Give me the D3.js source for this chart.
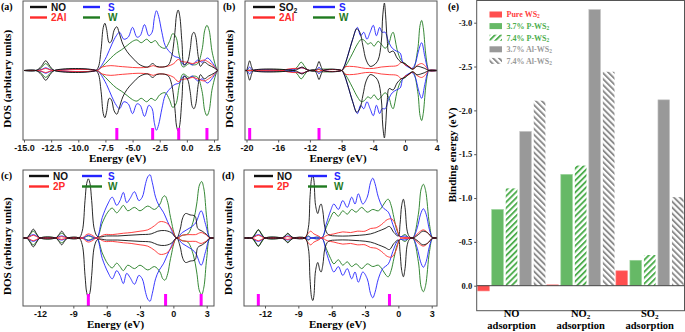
<!DOCTYPE html>
<html>
<head>
<meta charset="utf-8">
<script src="https://cdnjs.cloudflare.com/ajax/libs/d3/7.8.5/d3.min.js"></script>
<style>
body { margin: 0; background: #fff; }
svg { display: block; }
.serif { font-family: "Liberation Serif", "Times New Roman", serif; font-weight: bold; }
.sans { font-family: "Liberation Sans", Arial, sans-serif; font-weight: bold; }
</style>
</head>
<body>
<svg id="fig" width="685" height="332"></svg>
<script>
// ---- DOS data: [energy (eV), DOS (fraction of half panel height)]; spin-down is drawn mirrored ----

// (a) NO on 2Al-WS2
var aNO = [[-15,0],[-13.9,0],[-13.4,0.06],[-13.0,0.14],[-12.6,0.06],[-12.2,0],[-8.4,0],[-8.15,0.05],[-7.9,0.3],[-7.7,0.62],[-7.55,0.68],[-7.4,0.6],[-7.15,0.4],[-6.95,0.42],[-6.7,0.58],[-6.45,0.63],[-6.25,0.55],[-5.9,0.38],[-5.5,0.27],[-5.0,0.18],[-4.3,0.08],[-3.6,0.05],[-3.15,0.1],[-2.8,0.06],[-2.2,0.05],[-1.7,0.08],[-1.4,0.2],[-1.1,0.55],[-0.95,0.8],[-0.8,0.87],[-0.65,0.78],[-0.45,0.4],[-0.25,0.08],[0.05,0.12],[0.3,0.3],[0.5,0.52],[0.65,0.55],[0.8,0.5],[1.05,0.2],[1.25,0.06],[1.6,0.12],[2.0,0.08],[2.5,0.04],[2.85,0],[3,0]];
var aAl = [[-15,0],[-13.9,0],[-13.4,0.01],[-13.0,0.03],[-12.6,0.01],[-12.2,0],[-8.3,0],[-7.8,0.05],[-7.0,0.07],[-6.3,0.06],[-5.5,0.05],[-4.5,0.04],[-3.5,0.05],[-3.1,0.07],[-2.7,0.05],[-1.8,0.06],[-1.2,0.1],[-0.8,0.16],[-0.5,0.13],[0,0.12],[0.5,0.1],[1.0,0.12],[1.6,0.15],[2.0,0.12],[2.5,0.06],[2.85,0],[3,0]];
var aS = [[-15,0],[-13.9,0],[-13.3,0.02],[-13.0,0.04],[-12.7,0.02],[-12.2,0],[-8.3,0],[-8.0,0.04],[-7.4,0.2],[-6.9,0.38],[-6.5,0.5],[-6.2,0.55],[-5.8,0.45],[-5.4,0.48],[-5.0,0.62],[-4.6,0.48],[-4.3,0.5],[-3.9,0.66],[-3.5,0.5],[-3.2,0.55],[-3.0,0.75],[-2.8,0.86],[-2.6,0.78],[-2.3,0.55],[-2.0,0.36],[-1.6,0.27],[-1.1,0.2],[-0.7,0.18],[-0.3,0.08],[0.1,0.12],[0.5,0.08],[1.0,0.15],[1.4,0.12],[1.9,0.18],[2.4,0.1],[2.85,0],[3,0]];
var aW = [[-15,0],[-13.9,0],[-13.4,0.04],[-13.0,0.1],[-12.6,0.04],[-12.2,0],[-8.3,0],[-8.0,0.03],[-7.5,0.1],[-7.0,0.18],[-6.5,0.25],[-6.0,0.3],[-5.5,0.36],[-5.0,0.42],[-4.6,0.44],[-4.2,0.4],[-3.7,0.45],[-3.3,0.4],[-2.9,0.43],[-2.5,0.35],[-2.0,0.32],[-1.6,0.42],[-1.3,0.53],[-1.0,0.48],[-0.7,0.22],[-0.35,0.05],[0.2,0.1],[0.6,0.08],[1.0,0.1],[1.4,0.3],[1.65,0.58],[1.85,0.65],[2.05,0.58],[2.35,0.25],[2.85,0],[3,0]];

// (b) SO2 on 2Al-WS2
var bSO2 = [[-20.3,0],[-20.0,0],[-19.85,0.05],[-19.6,0.14],[-19.35,0.05],[-19.1,0],[-14,0],[-13.5,0.02],[-13,0.05],[-12.5,0.02],[-12,0],[-11.4,0],[-11.1,0.06],[-10.85,0.13],[-10.6,0.06],[-10.3,0],[-8.0,0],[-7.7,0.05],[-7.2,0.22],[-6.6,0.45],[-6.1,0.6],[-5.7,0.55],[-5.3,0.35],[-4.9,0.15],[-4.4,0.06],[-3.9,0.08],[-3.4,0.15],[-3.0,0.4],[-2.8,0.8],[-2.6,0.97],[-2.45,0.8],[-2.25,0.45],[-2.0,0.26],[-1.5,0.28],[-1.0,0.18],[-0.5,0.12],[0,0.1],[0.5,0.05],[1.0,0.02],[1.5,0.06],[2.0,0.05],[2.5,0.03],[3.0,0],[4.1,0]];
var bAl = [[-20.3,0],[-15.5,0],[-14.8,0.02],[-14,0.03],[-13.5,0.03],[-13,0.04],[-12.5,0.02],[-12,0],[-11.2,0],[-10.9,0.02],[-10.6,0],[-8.0,0],[-7.6,0.05],[-7,0.06],[-6,0.05],[-5,0.03],[-4,0.03],[-3,0.05],[-2,0.06],[-1,0.07],[-0.4,0.12],[0,0.08],[0.5,0.06],[1.0,0.02],[1.5,0.07],[2.1,0.1],[2.6,0.06],[3.0,0],[4.1,0]];
var bS = [[-20.3,0],[-20.0,0],[-19.8,0.02],[-19.6,0.05],[-19.4,0.02],[-19.2,0],[-15.5,0],[-14.8,0.01],[-14,0.02],[-13.5,0.03],[-13,0.04],[-12.5,0.02],[-12,0],[-11.3,0],[-11.0,0.03],[-10.85,0.05],[-10.7,0.03],[-10.4,0],[-8.0,0],[-7.7,0.05],[-7.2,0.22],[-6.6,0.45],[-6.0,0.62],[-5.6,0.5],[-5.2,0.55],[-4.8,0.45],[-4.4,0.55],[-4.0,0.65],[-3.6,0.5],[-3.2,0.62],[-2.9,0.55],[-2.5,0.55],[-2.1,0.42],[-1.6,0.32],[-1.1,0.28],[-0.6,0.25],[-0.3,0.12],[0,0.08],[0.4,0.05],[0.9,0.03],[1.3,0.1],[1.7,0.28],[2.1,0.4],[2.5,0.2],[2.8,0.05],[3.0,0],[4.1,0]];
var bW = [[-20.3,0],[-14.2,0],[-13.6,0.05],[-13.1,0.12],[-12.6,0.05],[-12.1,0],[-8.0,0],[-7.7,0.03],[-7.2,0.12],[-6.6,0.25],[-6.0,0.38],[-5.5,0.45],[-5.1,0.43],[-4.7,0.38],[-4.3,0.4],[-3.9,0.35],[-3.4,0.42],[-3.0,0.38],[-2.5,0.32],[-2.0,0.4],[-1.7,0.52],[-1.5,0.55],[-1.25,0.45],[-1.0,0.3],[-0.5,0.15],[0,0.1],[0.5,0.05],[1.0,0.02],[1.6,0.3],[1.9,0.65],[2.1,0.72],[2.3,0.62],[2.6,0.25],[2.85,0.05],[3.0,0],[4.1,0]];

// (c) NO on 2P-WS2
var cNO = [[-13.6,0],[-13.2,0],[-12.9,0.06],[-12.6,0.13],[-12.3,0.06],[-12.0,0],[-10.6,0],[-10.3,0.05],[-10.05,0.1],[-9.8,0.05],[-9.5,0],[-8.5,0],[-8.2,0.1],[-7.95,0.55],[-7.8,0.8],[-7.65,0.87],[-7.5,0.8],[-7.35,0.55],[-7.1,0.12],[-6.8,0.02],[-6,0.03],[-5,0.03],[-4,0.04],[-3,0.05],[-2,0.06],[-1.4,0.1],[-0.8,0.11],[-0.2,0.08],[0.3,0],[0.6,0.12],[0.85,0.3],[1.1,0.36],[1.5,0.34],[1.95,0.32],[2.2,0.14],[2.6,0.1],[3.0,0.05],[3.3,0],[3.7,0]];
var cP = [[-13.6,0],[-13.2,0],[-12.9,0.02],[-12.6,0.04],[-12.3,0.02],[-12.0,0],[-10.6,0],[-10.05,0.02],[-9.5,0],[-8.2,0],[-7.9,0.04],[-7.65,0.06],[-7.3,0.04],[-6.9,0],[-6.2,0.05],[-5.5,0.05],[-4.5,0.07],[-3.8,0.08],[-3.0,0.1],[-2.3,0.12],[-1.7,0.18],[-1.2,0.24],[-0.6,0.22],[-0.1,0.12],[0.3,0],[0.8,0.04],[1.5,0.05],[2.0,0.05],[2.5,0.08],[3.0,0.04],[3.3,0],[3.7,0]];
var cS = [[-13.6,0],[-13.2,0],[-12.9,0.03],[-12.6,0.05],[-12.3,0.03],[-12.0,0],[-10.6,0],[-10.3,0.02],[-10.05,0.03],[-9.8,0.02],[-9.5,0],[-8.2,0],[-7.9,0.02],[-7.65,0.04],[-7.3,0.02],[-6.9,0],[-6.4,0.3],[-5.9,0.5],[-5.5,0.6],[-5.1,0.48],[-4.8,0.55],[-4.5,0.67],[-4.2,0.52],[-3.9,0.58],[-3.5,0.68],[-3.1,0.55],[-2.8,0.6],[-2.5,0.8],[-2.3,0.9],[-2.1,0.93],[-1.9,0.82],[-1.6,0.6],[-1.3,0.48],[-0.9,0.38],[-0.4,0.2],[0.3,0],[0.8,0.08],[1.5,0.15],[2.0,0.22],[2.5,0.4],[2.9,0.2],[3.3,0],[3.7,0]];
var cW = [[-13.6,0],[-13.2,0],[-12.9,0.05],[-12.6,0.1],[-12.3,0.05],[-12.0,0],[-10.6,0],[-10.3,0.04],[-10.05,0.07],[-9.8,0.04],[-9.5,0],[-8.2,0],[-7.65,0.03],[-6.9,0],[-6.4,0.22],[-5.9,0.38],[-5.5,0.44],[-5.1,0.37],[-4.8,0.42],[-4.5,0.48],[-4.1,0.4],[-3.5,0.45],[-3.0,0.4],[-2.3,0.47],[-1.7,0.42],[-1.2,0.5],[-0.95,0.6],[-0.75,0.62],[-0.5,0.52],[-0.25,0.3],[0.3,0],[0.8,0.04],[1.3,0.06],[1.8,0.25],[2.1,0.5],[2.35,0.78],[2.55,0.83],[2.75,0.72],[3.0,0.3],[3.3,0],[3.7,0]];

// (d) NO on 2P-WS2, second site
var dNO = [[-14,0],[-13.2,0],[-12.9,0.05],[-12.6,0.12],[-12.3,0.05],[-12.0,0],[-10.5,0],[-10.2,0.03],[-9.95,0.07],[-9.7,0.03],[-9.4,0],[-8.4,0],[-8.1,0.15],[-7.95,0.6],[-7.8,0.88],[-7.7,0.92],[-7.6,0.85],[-7.45,0.48],[-7.25,0.36],[-7.05,0.48],[-6.95,0.5],[-6.8,0.4],[-6.6,0.15],[-6.3,0.05],[-5.5,0.03],[-4.5,0.03],[-3.5,0.04],[-2.5,0.06],[-1.8,0.1],[-1.2,0.14],[-0.8,0.17],[-0.4,0.08],[0.0,0.03],[0.15,0.2],[0.3,0.48],[0.45,0.57],[0.6,0.45],[0.8,0.1],[1.0,0.02],[1.3,0],[1.8,0.05],[2.2,0.1],[2.6,0.08],[3.1,0],[3.5,0]];
var dP = [[-14,0],[-13.2,0],[-12.9,0.02],[-12.6,0.04],[-12.3,0.02],[-12,0],[-10.5,0],[-9.95,0.02],[-9.4,0],[-8.5,0],[-8.2,0.05],[-7.9,0.1],[-7.6,0.06],[-7.2,0.03],[-6.9,0],[-6.4,0.04],[-5.8,0.06],[-5.0,0.09],[-4.3,0.08],[-3.7,0.1],[-3.0,0.1],[-2.5,0.14],[-2.0,0.15],[-1.5,0.2],[-1.0,0.27],[-0.6,0.28],[-0.2,0.18],[0.1,0.02],[0.3,0],[1.3,0],[1.7,0.06],[2.25,0.12],[2.8,0.05],[3.1,0],[3.5,0]];
var dS = [[-14,0],[-13.2,0],[-12.9,0.03],[-12.6,0.05],[-12.3,0.03],[-12,0],[-10.5,0],[-9.95,0.03],[-9.4,0],[-8.4,0],[-8.1,0.02],[-7.8,0],[-6.9,0],[-6.5,0.2],[-6.1,0.4],[-5.8,0.5],[-5.4,0.42],[-5.0,0.55],[-4.6,0.45],[-4.2,0.6],[-3.9,0.5],[-3.6,0.65],[-3.2,0.5],[-2.8,0.6],[-2.5,0.82],[-2.3,0.88],[-2.1,0.8],[-1.8,0.6],[-1.4,0.45],[-0.9,0.38],[-0.5,0.2],[-0.1,0.05],[0.2,0.02],[0.6,0.03],[1.0,0],[1.3,0],[1.7,0.15],[2.0,0.35],[2.25,0.43],[2.5,0.35],[2.8,0.12],[3.1,0],[3.5,0]];
var dW = [[-14,0],[-13.2,0],[-12.9,0.06],[-12.6,0.12],[-12.3,0.06],[-12,0],[-10.5,0],[-10.2,0.03],[-9.95,0.06],[-9.7,0.03],[-9.4,0],[-8.4,0],[-8.1,0.03],[-7.8,0],[-6.9,0],[-6.5,0.15],[-6.1,0.3],[-5.8,0.38],[-5.4,0.32],[-5.0,0.4],[-4.6,0.35],[-4.2,0.42],[-3.8,0.38],[-3.3,0.45],[-2.8,0.38],[-2.3,0.42],[-1.8,0.4],[-1.3,0.5],[-1.1,0.55],[-0.9,0.57],[-0.65,0.48],[-0.4,0.3],[-0.1,0.1],[0.2,0.02],[0.6,0.05],[1.0,0],[1.3,0],[1.8,0.35],[2.05,0.72],[2.25,0.79],[2.45,0.7],[2.8,0.2],[3.1,0],[3.5,0]];

// molecular level markers (eV)
var aLevels = [-6.45, -3.15, -0.75, 1.85];
var bLevels = [-19.6, -10.85];
var cLevels = [-7.65, -0.7, 2.5];
var dLevels = [-12.6, -0.8];

// energy tick labels
var aTicks = [-15, -12.5, -10, -7.5, -5, -2.5, 0, 2.5];
var bTicks = [-20, -16, -12, -8, -4, 0, 4];
var cTicks = [-12, -9, -6, -3, 0, 3];

// ---- (e) binding energies (eV) ----
var gases = ["NO", "NO2", "SO2"];
var seriesNames = ["Pure WS2", "3.7% P-WS2", "7.4% P-WS2", "3.7% Al-WS2", "7.4% Al-WS2"];
var pureWS2 = [0.06, -0.01, -0.17];
var p37WS2 = [-0.87, -1.27, -0.29];
var p74WS2 = [-1.11, -1.37, -0.35];
var al37WS2 = [-1.76, -3.15, -2.12];
var al74WS2 = [-2.11, -2.44, -1.01];
var bindTicks = [0, -0.5, -1.0, -1.5, -2.0, -2.5, -3.0];

var COL = { mol: "#111", dop: "#ff2b2b", S: "#2424ff", W: "#1f7a1f" };

var svg = d3.select("#fig");
svg.append("rect").attr("width", 685).attr("height", 332).attr("fill", "#fff");

// write "NO2"-like strings with a lowered, smaller trailing 2
function subText(sel, str, size) {
    var m = str.match(/^(.*?)(2)$/);
    if (!m) { sel.text(str); return sel; }
    sel.append("tspan").text(m[1]);
    sel.append("tspan").attr("font-size", size * 0.68).attr("baseline-shift", -size * 0.15).text("2");
    return sel;
}

function dosPanel(p) {
    var g = svg.append("g");
    var x = d3.scaleLinear().domain(p.anchorE).range(p.anchorX);
    var y = d3.scaleLinear().domain([-1, 1]).range([p.box.b, p.box.t]);

    var clipId = "clip-" + p.id;
    svg.append("clipPath").attr("id", clipId)
        .append("rect")
        .attr("x", p.box.l).attr("y", p.box.t)
        .attr("width", p.box.r - p.box.l).attr("height", p.box.b - p.box.t);

    var curve = d3.curveCatmullRom.alpha(0.5);
    var up = d3.line().x(function (d) { return x(d[0]); }).y(function (d) { return y(d[1]); }).curve(curve);
    var dn = d3.line().x(function (d) { return x(d[0]); }).y(function (d) { return y(-d[1]); }).curve(curve);

    var plot = g.append("g").attr("clip-path", "url(#" + clipId + ")");
    p.curves.forEach(function (c) {
        plot.append("path").attr("d", up(c.data)).attr("fill", "none").attr("stroke", c.color).attr("stroke-width", 0.9);
        plot.append("path").attr("d", dn(c.data)).attr("fill", "none").attr("stroke", c.color).attr("stroke-width", 0.9);
    });

    // level markers
    g.selectAll("rect.level").data(p.levels).enter().append("rect")
        .attr("class", "level")
        .attr("x", function (d) { return x(d) - 1.5; })
        .attr("y", p.box.b - 12)
        .attr("width", 3).attr("height", 12)
        .attr("fill", "#ff00ff");

    // frame
    g.append("rect")
        .attr("x", p.box.l).attr("y", p.box.t)
        .attr("width", p.box.r - p.box.l).attr("height", p.box.b - p.box.t)
        .attr("fill", "none").attr("stroke", "#555").attr("stroke-width", 1);

    var ax = g.append("g").attr("transform", "translate(0," + p.box.b + ")")
        .call(d3.axisBottom(x).tickValues(p.ticks).tickSize(2.5).tickPadding(2).tickFormat(p.fmt));
    ax.select(".domain").remove();
    ax.selectAll("line").attr("stroke", "#555");
    ax.selectAll("text").attr("class", "sans").attr("font-size", 9).attr("fill", "#111");

    g.append("text").attr("class", "serif").attr("font-size", 11)
        .attr("x", (p.box.l + p.box.r) / 2 - 3).attr("y", p.box.b + 21.5)
        .attr("text-anchor", "middle").text("Energy (eV)");

    g.append("text").attr("class", "serif").attr("font-size", 11)
        .attr("transform", "translate(" + (p.box.l - 12) + "," + (p.box.t + (p.box.b - p.box.t) * 0.56) + ") rotate(-90)")
        .attr("text-anchor", "middle").text("DOS (arbitary units)");

    g.append("text").attr("class", "serif").attr("font-size", 10)
        .attr("x", p.box.l - 22).attr("y", p.box.t + 9).text(p.label);

    // legend: two rows, two columns
    p.legend.forEach(function (it, i) {
        var col = Math.floor(i / 2), row = i % 2;
        var lx = p.box.l + p.legX[col], ly = p.box.t + 6 + row * 10.5;
        g.append("line").attr("x1", lx).attr("x2", lx + p.swatch)
            .attr("y1", ly).attr("y2", ly)
            .attr("stroke", it.color).attr("stroke-width", 2.4);
        var t = g.append("text").attr("class", "sans").attr("font-size", 10)
            .attr("x", lx + p.swatch + 4 + (it.pad || 0)).attr("y", ly + 3.6).attr("fill", it.color);
        if (it.name === "SO2") subText(t, it.name, 10); else t.text(it.name);
    });
}

var fmtA = function (d) { return d.toFixed(1); };
var fmtI = function (d) { return d3.format("d")(d).replace("\u2212", "-"); };

dosPanel({
    id: "a", label: "(a)", box: { l: 23, r: 218, t: 1, b: 140 },
    anchorE: [-15, 2.5], anchorX: [24, 214], ticks: aTicks, fmt: fmtA, levels: aLevels,
    curves: [{ data: aW, color: COL.W }, { data: aS, color: COL.S }, { data: aAl, color: COL.dop }, { data: aNO, color: COL.mol }],
    legend: [{ name: "NO", color: COL.mol }, { name: "2Al", color: COL.dop }, { name: "S", color: COL.S, pad: 4 }, { name: "W", color: COL.W, pad: 4 }],
    legX: [7, 60], swatch: 17
});
dosPanel({
    id: "b", label: "(b)", box: { l: 245, r: 437, t: 1, b: 140 },
    anchorE: [-20, 4], anchorX: [246.5, 436.7], ticks: bTicks, fmt: fmtI, levels: bLevels,
    curves: [{ data: bW, color: COL.W }, { data: bS, color: COL.S }, { data: bAl, color: COL.dop }, { data: bSO2, color: COL.mol }],
    legend: [{ name: "SO2", color: COL.mol }, { name: "2Al", color: COL.dop }, { name: "S", color: COL.S }, { name: "W", color: COL.W }],
    legX: [8, 68], swatch: 22
});
dosPanel({
    id: "c", label: "(c)", box: { l: 23, r: 214, t: 170, b: 306 },
    anchorE: [-12, 3], anchorX: [40, 206.7], ticks: cTicks, fmt: fmtI, levels: cLevels,
    curves: [{ data: cW, color: COL.W }, { data: cS, color: COL.S }, { data: cP, color: COL.dop }, { data: cNO, color: COL.mol }],
    legend: [{ name: "NO", color: COL.mol }, { name: "2P", color: COL.dop }, { name: "S", color: COL.S, pad: 2 }, { name: "W", color: COL.W, pad: 2 }],
    legX: [6, 59], swatch: 20
});
dosPanel({
    id: "d", label: "(d)", box: { l: 244, r: 437, t: 170, b: 306 },
    anchorE: [-12, 3], anchorX: [265, 431.7], ticks: cTicks, fmt: fmtI, levels: dLevels,
    curves: [{ data: dW, color: COL.W }, { data: dS, color: COL.S }, { data: dP, color: COL.dop }, { data: dNO, color: COL.mol }],
    legend: [{ name: "NO", color: COL.mol }, { name: "2P", color: COL.dop }, { name: "S", color: COL.S, pad: 3 }, { name: "W", color: COL.W, pad: 3 }],
    legX: [10, 64], swatch: 19
});

// ---- panel (e): grouped bars ----
(function () {
    var box = { l: 476.7, r: 684.5, t: 0.5, b: 310.7 };
    var defs = svg.append("defs");
    function hatch(id, color, angle) {
        var pat = defs.append("pattern").attr("id", id)
            .attr("patternUnits", "userSpaceOnUse").attr("width", 4.2).attr("height", 4.2)
            .attr("patternTransform", "rotate(" + angle + ")");
        pat.append("rect").attr("width", 4.2).attr("height", 4.2).attr("fill", "#fff");
        pat.append("rect").attr("width", 1.9).attr("height", 4.2).attr("fill", color);
    }
    hatch("hatchP", "#4fae4f", 45);
    hatch("hatchAl", "#8c8c8c", -45);

    var fills = ["#ff4f4f", "#66b966", "url(#hatchP)", "#999999", "url(#hatchAl)"];
    var textCol = ["#ff4040", "#4cae4c", "#4cae4c", "#9a9a9a", "#9a9a9a"];
    var seriesVals = [pureWS2, p37WS2, p74WS2, al37WS2, al74WS2];

    var y = d3.scaleLinear().domain([0, -3]).range([285.7, 22.7]);
    var x0 = d3.scaleBand().domain(gases).range([477, 684.3]);
    var x1 = d3.scaleBand().domain(seriesNames).range([0, x0.bandwidth()]).paddingInner(0.17).paddingOuter(0.05);

    var g = svg.append("g");
    var rows = [];
    gases.forEach(function (gas, gi) {
        seriesNames.forEach(function (s, si) {
            rows.push({ gas: gas, s: s, si: si, v: seriesVals[si][gi] });
        });
    });
    g.selectAll("rect.bar").data(rows).enter().append("rect")
        .attr("class", "bar")
        .attr("x", function (d) { return x0(d.gas) + x1(d.s); })
        .attr("width", x1.bandwidth())
        .attr("y", function (d) { return Math.min(y(0), y(d.v)); })
        .attr("height", function (d) { return Math.abs(y(d.v) - y(0)); })
        .attr("fill", function (d) { return fills[d.si]; })
        .attr("stroke", function (d) { return d.si === 0 ? "#ff8a8a" : d.si === 1 ? "#9ad49a" : d.si === 3 ? "#c4c4c4" : "none"; })
        .attr("stroke-width", 0.6);

    g.append("line").attr("x1", box.l).attr("x2", box.r).attr("y1", y(0)).attr("y2", y(0))
        .attr("stroke", "#444").attr("stroke-width", 1);

    g.append("rect").attr("x", box.l).attr("y", box.t)
        .attr("width", box.r - box.l).attr("height", box.b - box.t)
        .attr("fill", "none").attr("stroke", "#555").attr("stroke-width", 1);

    var ay = g.append("g").attr("transform", "translate(" + box.l + ",0)")
        .call(d3.axisLeft(y).tickValues(bindTicks).tickSize(2.5).tickPadding(2)
            .tickFormat(function (d) { return d.toFixed(1); }));
    ay.select(".domain").remove();
    ay.selectAll("line").attr("stroke", "#555");
    ay.selectAll("text").attr("class", "serif").attr("font-size", 8.5).attr("fill", "#111");

    g.append("text").attr("class", "serif").attr("font-size", 11)
        .attr("transform", "translate(456,155) rotate(-90)")
        .attr("text-anchor", "middle").text("Binding energy (eV)");

    g.append("text").attr("class", "serif").attr("font-size", 10)
        .attr("x", 448).attr("y", 10).text("(e)");

    // category labels
    gases.forEach(function (gas) {
        var cx = x0(gas) + x0.bandwidth() / 2;
        var t = g.append("text").attr("class", "serif").attr("font-size", 10.5)
            .attr("x", cx).attr("y", 316.5).attr("text-anchor", "middle");
        subText(t, gas, 10.5);
        g.append("text").attr("class", "serif").attr("font-size", 10.5)
            .attr("x", cx).attr("y", 328.5).attr("text-anchor", "middle").text("adsorption");
    });

    // legend
    seriesNames.forEach(function (s, i) {
        var ly = 14.5 + i * 11.6;
        g.append("rect").attr("x", 489.5).attr("y", ly - 3).attr("width", 12.5).attr("height", 6)
            .attr("fill", fills[i]);
        var t = g.append("text").attr("class", "serif").attr("font-size", 8)
            .attr("x", 506.5).attr("y", ly + 2.8).attr("fill", textCol[i]);
        subText(t, s, 8);
    });
})();
</script>
</body>
</html>
